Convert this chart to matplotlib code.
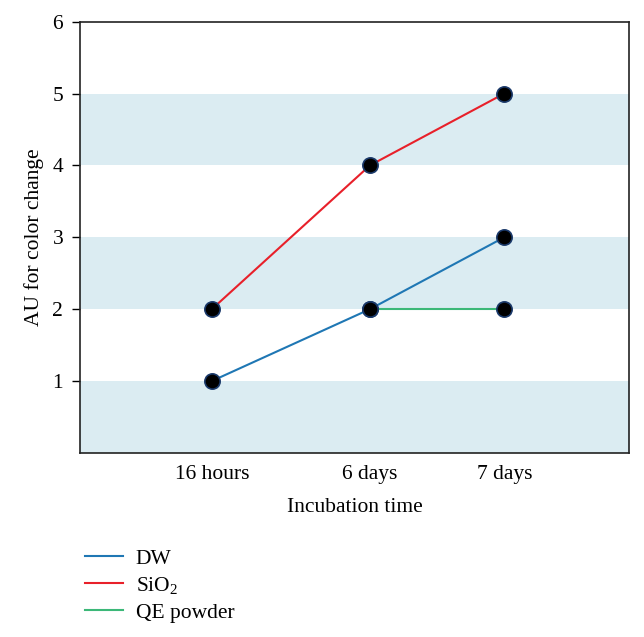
import matplotlib.pyplot as plt

plt.rcParams['font.family'] = ['Liberation Serif', 'DejaVu Serif']
plt.rcParams['mathtext.default'] = 'regular'

# data
times = ['16 hours', '6 days', '7 days']
time_pos = [1.0, 2.0, 2.85]
dw = [1, 2, 3]
sio2 = [2, 4, 5]
qe_days = ['6 days', '7 days']
qe = [2, 2]
bands = [(0, 1), (2, 3), (4, 5)]

FS = 15.5

fig = plt.figure(figsize=(6.44, 6.37), dpi=100)
ax = fig.add_axes([0.124, 0.289, 0.853, 0.677])

for lo, hi in bands:
    ax.axhspan(lo, hi, color='#dbecf2', lw=0, zorder=0)

mk = dict(marker='o', markersize=11, markerfacecolor='black',
          markeredgecolor='#1b3a6b', markeredgewidth=1.2)
qe_pos = [time_pos[times.index(t)] for t in qe_days]
ax.plot(time_pos, dw, color='#1f77b4', lw=1.5, label='DW', zorder=2)
ax.plot(time_pos, sio2, color='#e8202a', lw=1.5, label='SiO$_2$', zorder=2)
ax.plot(qe_pos, qe, color='#3cb878', lw=1.5, label='QE powder', zorder=2)
# markers on top
ax.plot(time_pos, dw, lw=0, zorder=3, **mk)
ax.plot(time_pos, sio2, lw=0, zorder=3, **mk)
ax.plot(qe_pos, qe, lw=0, zorder=3, **mk)

ax.set_xlim(0.165, 3.64)
ax.set_ylim(0, 6)
ax.set_yticks([1, 2, 3, 4, 5, 6])
ax.set_xticks(time_pos)
ax.set_xticklabels(times)
ax.tick_params(axis='x', length=0, pad=9, labelsize=FS)
ax.tick_params(axis='y', length=6, width=1, pad=6, labelsize=FS)
for s in ax.spines.values():
    s.set_linewidth(1.2)
    s.set_color('#222222')

ax.set_xlabel('Incubation time', fontsize=FS, labelpad=10)
ax.set_ylabel('AU for color change', fontsize=FS, labelpad=6)

handles, labels = ax.get_legend_handles_labels()
fig.legend(handles, labels, loc='upper left', bbox_to_anchor=(0.132, 0.139),
           frameon=False, fontsize=FS, handlelength=1.75, handletextpad=0.6,
           labelspacing=0.3, borderpad=0, borderaxespad=0)

fig.savefig('out.png', dpi=100)
